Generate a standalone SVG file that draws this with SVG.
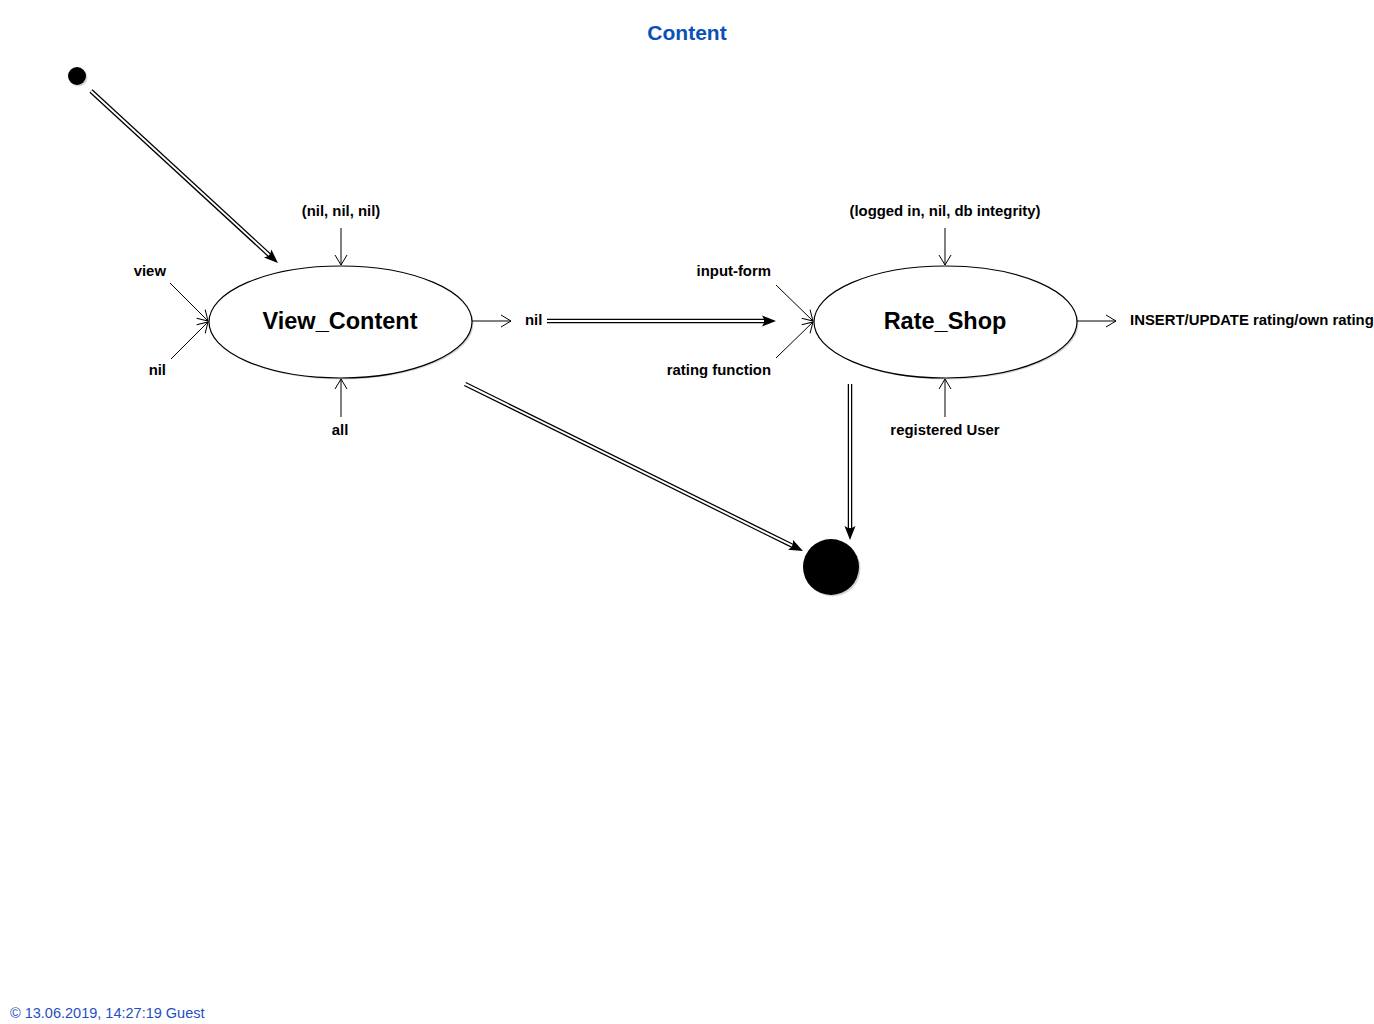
<svg xmlns="http://www.w3.org/2000/svg" width="1374" height="1024" viewBox="0 0 1374 1024">
<style>
.lbl{font-family:"Liberation Sans",Arial,sans-serif;font-size:14.9px;font-weight:bold;fill:#000}
.node{font-family:"Liberation Sans",Arial,sans-serif;font-size:23.5px;font-weight:bold;fill:#000}
.title{font-family:"Liberation Sans",Arial,sans-serif;font-size:21px;font-weight:bold;fill:#0b4fb8}
.foot{font-family:"Liberation Sans",Arial,sans-serif;font-size:14.5px;fill:#1f4fc4}
.st{fill:#fff;stroke:#000;stroke-width:1.2}
.sh{fill:#d4d4d4}
.thin{stroke:#000;stroke-width:1;fill:none}
.dbl{stroke:#000;stroke-width:4.5;fill:none}
.gap{stroke:#fff;stroke-width:2;fill:none}
</style>
<defs>
<marker id="open" markerUnits="userSpaceOnUse" markerWidth="14" markerHeight="16" viewBox="-12 -8 14 16" refX="0" refY="0" orient="auto">
<path d="M-10,-6 L0,0 L-10,6" fill="none" stroke="#000" stroke-width="1"/>
</marker>
<marker id="solid" markerUnits="userSpaceOnUse" markerWidth="16" markerHeight="14" viewBox="0 -7 16 14" refX="7" refY="0" orient="auto">
<path d="M0,-5.5 L14,0 L0,5.5 L3,0 z" fill="#000"/>
</marker>
</defs>
<rect width="1374" height="1024" fill="#fff"/>
<text class="title" x="687" y="40" text-anchor="middle">Content</text>

<g id="start">
<circle class="sh" cx="78.5" cy="77.5" r="9"/>
<circle cx="77" cy="76" r="9" fill="#000"/>
</g>

<g id="view_content">
<ellipse class="sh" cx="342" cy="323.5" rx="131.5" ry="56"/>
<ellipse class="st" cx="340.5" cy="322" rx="131.5" ry="56"/>
<text class="node" x="340" y="329" text-anchor="middle">View_Content</text>
</g>

<g id="rate_shop">
<ellipse class="sh" cx="947" cy="323.5" rx="131.5" ry="56"/>
<ellipse class="st" cx="945.5" cy="322" rx="131.5" ry="56"/>
<text class="node" x="945" y="329" text-anchor="middle">Rate_Shop</text>
</g>

<g id="end">
<circle class="sh" cx="832.5" cy="568.5" r="28"/>
<circle cx="831" cy="567" r="28" fill="#000"/>
</g>

<g id="connectors">
<line class="dbl" x1="91" y1="91" x2="272.8" y2="258.3" marker-end="url(#solid)"/>
<line class="gap" x1="91" y1="91" x2="269.2" y2="254.9"/>
<line class="dbl" x1="547" y1="321" x2="769" y2="321" marker-end="url(#solid)"/>
<line class="gap" x1="546" y1="321" x2="764" y2="321"/>
<line class="dbl" x1="465" y1="384" x2="796.7" y2="547.9" marker-end="url(#solid)"/>
<line class="gap" x1="464" y1="383.5" x2="792.2" y2="545.7"/>
<line class="dbl" x1="850" y1="384" x2="850" y2="533" marker-end="url(#solid)"/>
<line class="gap" x1="850" y1="383" x2="850" y2="528"/>

<line class="thin" x1="341" y1="228" x2="341" y2="265" marker-end="url(#open)"/>
<line class="thin" x1="170" y1="283" x2="208" y2="321" marker-end="url(#open)"/>
<line class="thin" x1="171" y1="359" x2="208" y2="322" marker-end="url(#open)"/>
<line class="thin" x1="341" y1="417" x2="341" y2="379" marker-end="url(#open)"/>
<line class="thin" x1="472" y1="321" x2="511" y2="321" marker-end="url(#open)"/>

<line class="thin" x1="945" y1="228" x2="945" y2="265" marker-end="url(#open)"/>
<line class="thin" x1="776" y1="285" x2="813" y2="321" marker-end="url(#open)"/>
<line class="thin" x1="776" y1="358" x2="813" y2="322" marker-end="url(#open)"/>
<line class="thin" x1="945" y1="417" x2="945" y2="379" marker-end="url(#open)"/>
<line class="thin" x1="1077" y1="321" x2="1116" y2="321" marker-end="url(#open)"/>
</g>

<g id="labels">
<text class="lbl" x="341" y="216" text-anchor="middle">(nil, nil, nil)</text>
<text class="lbl" x="166" y="276" text-anchor="end">view</text>
<text class="lbl" x="166" y="375" text-anchor="end">nil</text>
<text class="lbl" x="340" y="435" text-anchor="middle">all</text>
<text class="lbl" x="525" y="325">nil</text>
<text class="lbl" x="945" y="216" text-anchor="middle">(logged in, nil, db integrity)</text>
<text class="lbl" x="771" y="276" text-anchor="end">input-form</text>
<text class="lbl" x="771" y="375" text-anchor="end">rating function</text>
<text class="lbl" x="945" y="435" text-anchor="middle">registered User</text>
<text class="lbl" x="1130" y="325">INSERT/UPDATE rating/own rating</text>
</g>

<text class="foot" x="10" y="1018">© 13.06.2019, 14:27:19 Guest</text>
</svg>
